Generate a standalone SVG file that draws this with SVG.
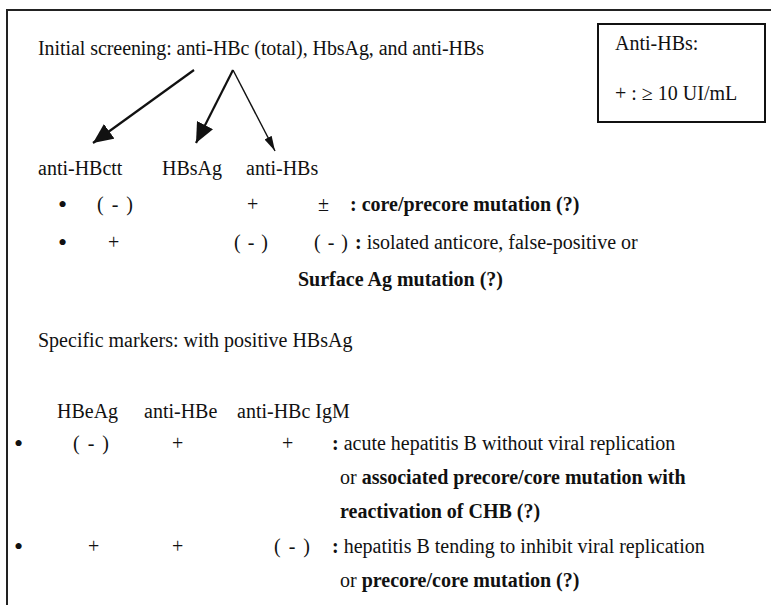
<svg xmlns="http://www.w3.org/2000/svg" width="771" height="605" viewBox="0 0 771 605">
<style>
text{font-family:"Liberation Serif","Times New Roman",serif;font-size:20px;fill:#111}
.b{font-weight:bold}
.dot{font-size:26px}
.frame{fill:none;stroke:#222;stroke-width:2}
.conn{stroke:#111;fill:none}
</style>
<defs>
<marker id="big" markerUnits="userSpaceOnUse" markerWidth="22" markerHeight="18" refX="20" refY="9" orient="auto">
<path d="M0,0 L20,9 L0,18 Z" fill="#111"/>
</marker>
<marker id="thin" markerUnits="userSpaceOnUse" markerWidth="16" markerHeight="10" refX="15" refY="4" orient="auto">
<path d="M0,0 L15,4 L0,8 Z" fill="#111"/>
</marker>
</defs>
<rect width="771" height="605" fill="#fff"/>
<path class="frame" d="M7,605 L7,10 L771,10"/>
<g id="title"><text x="38" y="55" textLength="446">Initial screening: anti-HBc (total), HbsAg, and anti-HBs</text></g>
<g id="legend">
<rect x="598" y="24" width="167" height="98" fill="none" stroke="#111" stroke-width="2"/>
<text x="615" y="50">Anti-HBs:</text>
<text x="615" y="100">+ : ≥ 10 UI/mL</text>
</g>
<g id="connectors">
<line class="conn" x1="194" y1="70" x2="93" y2="143" stroke-width="2.2" marker-end="url(#big)"/>
<line class="conn" x1="233" y1="70" x2="196" y2="143" stroke-width="2.2" marker-end="url(#big)"/>
<line class="conn" x1="233" y1="70" x2="275" y2="151" stroke-width="1.4" marker-end="url(#thin)"/>
</g>
<g id="screening-headers">
<text x="38" y="175">anti-HBctt</text>
<text x="162" y="175">HBsAg</text>
<text x="246" y="175">anti-HBs</text>
</g>
<g id="screening-row1">
<text x="58" y="213" class="dot">•</text>
<text x="97" y="211" letter-spacing="1.5">( - )</text>
<text x="247" y="211">+</text>
<text x="318" y="211">±</text>
<text x="350" y="211" class="b">: core/precore mutation (?)</text>
</g>
<g id="screening-row2">
<text x="58" y="251" class="dot">•</text>
<text x="108" y="249">+</text>
<text x="234" y="249" letter-spacing="1">( - )</text>
<text x="314" y="249" letter-spacing="1">( - )</text>
<text x="355" y="249"><tspan class="b">:</tspan> isolated anticore, false-positive or</text>
<text x="298" y="286" class="b">Surface Ag mutation (?)</text>
</g>
<g id="specific-title"><text x="38" y="347">Specific markers: with positive HBsAg</text></g>
<g id="specific-headers">
<text x="57" y="418">HBeAg</text>
<text x="144" y="418">anti-HBe</text>
<text x="237" y="418">anti-HBc IgM</text>
</g>
<g id="specific-row1">
<text x="14" y="452" class="dot">•</text>
<text x="73" y="450" letter-spacing="1.5">( - )</text>
<text x="172" y="450">+</text>
<text x="282" y="450">+</text>
<text x="332" y="450"><tspan class="b">:</tspan> acute hepatitis B without viral replication</text>
<text x="340" y="484">or <tspan class="b">associated precore/core mutation with</tspan></text>
<text x="340" y="518" class="b">reactivation of CHB (?)</text>
</g>
<g id="specific-row2">
<text x="14" y="555" class="dot">•</text>
<text x="88" y="553">+</text>
<text x="172" y="553">+</text>
<text x="274" y="553" letter-spacing="1.5">( - )</text>
<text x="332" y="553"><tspan class="b">:</tspan> hepatitis B tending to inhibit viral replication</text>
<text x="340" y="587">or  <tspan class="b">precore/core mutation (?)</tspan></text>
</g>
</svg>
